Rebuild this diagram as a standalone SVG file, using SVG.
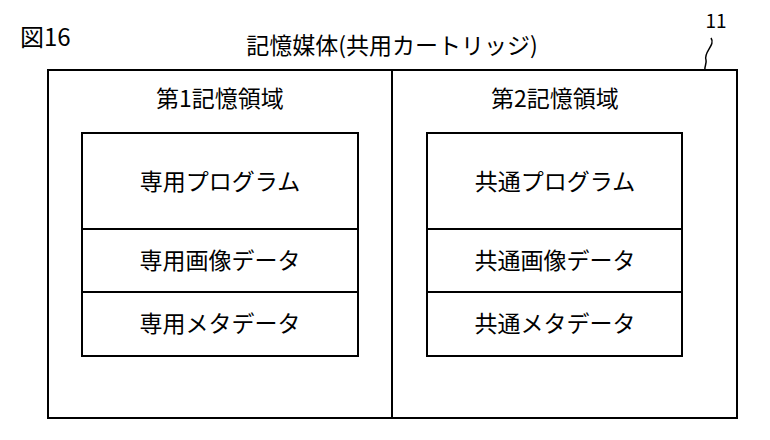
<svg xmlns="http://www.w3.org/2000/svg" width="770" height="440" viewBox="0 0 770 440">
<style>
.b{fill:none;stroke:#000;stroke-width:2}
text{font-family:"Noto Sans CJK JP","Liberation Sans",sans-serif;font-size:23px;text-anchor:middle;fill:#000}
</style>
<rect width="770" height="440" fill="#fff"/>
<text x="20" y="46" style="text-anchor:start;font-size:24px">図16</text>
<text x="392" y="54">記憶媒体(共用カートリッジ)</text>
<text x="716" y="28" style="font-size:19px">11</text>
<g id="connectors"><path class="b" style="stroke-width:1.5" d="M711,38 C716,45 703,52 706,60 C707,64 704,67 705,70"/></g>
<g id="medium"><rect class="b" x="48" y="70" width="689" height="348"/><line class="b" x1="392" y1="70" x2="392" y2="418"/></g>
<g id="area1">
<text x="220" y="107">第1記憶領域</text>
<rect class="b" x="82" y="133" width="276" height="223"/>
<line class="b" x1="82" y1="229" x2="358" y2="229"/><line class="b" x1="82" y1="292" x2="358" y2="292"/>
<text x="220" y="190">専用プログラム</text>
<text x="220" y="269">専用画像データ</text>
<text x="220" y="332">専用メタデータ</text>
</g>
<g id="area2">
<text x="555" y="107">第2記憶領域</text>
<rect class="b" x="427" y="133" width="255" height="223"/>
<line class="b" x1="427" y1="229" x2="682" y2="229"/><line class="b" x1="427" y1="292" x2="682" y2="292"/>
<text x="555" y="190">共通プログラム</text>
<text x="555" y="269">共通画像データ</text>
<text x="555" y="332">共通メタデータ</text>
</g>
</svg>
